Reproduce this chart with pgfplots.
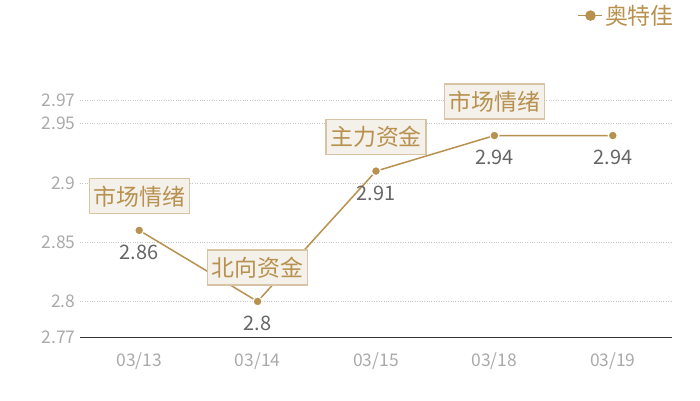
\documentclass[border=0pt]{standalone}
\usepackage{pgfplots}
\pgfplotsset{compat=1.18}
\usepackage{fontspec}
\setmainfont{Noto Sans CJK SC}
\definecolor{gold}{HTML}{B8914F}
\definecolor{boxfill}{HTML}{F4F0EA}
\definecolor{boxline}{HTML}{D8C3A5}
\definecolor{ticktext}{HTML}{AAAAAA}
\definecolor{valtext}{HTML}{666666}
\definecolor{gridc}{HTML}{C8C8C8}
\begin{document}
\begin{tikzpicture}[x=1bp,y=1bp]
\path[use as bounding box] (0,0) rectangle (700,400);
\begin{axis}[
    at={(80bp,63bp)}, anchor=south west,
    scale only axis,
    width=592bp, height=237bp,
    xmin=-0.5, xmax=4.5,
    ymin=2.77, ymax=2.97,
    xtick=data,
    xticklabels={03/13,03/14,03/15,03/18,03/19},
    ytick={2.77,2.8,2.85,2.9,2.95,2.97},
    yticklabels={2.77,2.8,2.85,2.9,2.95,2.97},
    axis x line*=bottom,
    axis y line*=left,
    y axis line style={draw=none},
    x axis line style={draw=black!80, line width=0.8pt, -},
    major tick length=0pt,
    ymajorgrids,
    grid style={gridc, dotted, line width=0.7pt},
    /pgf/number format/assume math mode=true,
    ticklabel style={font=\fontsize{17.5}{17.5}\selectfont, text=ticktext},
    xticklabel style={yshift=-12bp},
    yticklabel style={xshift=-1bp},
    clip=false,
    legend style={at={(1.0,1.0)}, anchor=north east, yshift=97bp, xshift=4bp,
        draw=none, fill=none, font=\fontsize{23}{23}\selectfont\color{gold},
        legend cell align=left, inner sep=0pt},
    legend image code/.code={
        \draw[gold, line width=1.2pt] (-4bp,0bp) -- (20bp,0bp);
        \fill[gold] (8bp,0bp) circle (4.5bp);
    },
]
\addplot[gold, line width=1.5pt, mark=*, mark size=4.5bp,
    mark options={fill=gold, draw=white, line width=1.2pt}]
    coordinates {(0,2.86) (1,2.80) (2,2.91) (3,2.94) (4,2.94)};
\addlegendentry{奥特佳}

% value labels below points
\addplot[draw=none, forget plot, point meta=explicit symbolic,
    nodes near coords,
    nodes near coords style={anchor=center, yshift=-22bp,
        font=\fontsize{20}{20}\selectfont, text=valtext}]
    coordinates {(0,2.86)[2.86] (1,2.80)[2.8] (2,2.91)[2.91] (3,2.94)[2.94] (4,2.94)[2.94]};

% annotation boxes above points
\addplot[draw=none, forget plot, point meta=explicit symbolic,
    nodes near coords,
    nodes near coords style={anchor=center, yshift=34bp,
        font=\fontsize{23}{23}\selectfont, text=gold,
        fill=boxfill, draw=boxline, line width=1.2pt,
        minimum width=100bp, minimum height=35bp,
        inner xsep=2bp, inner ysep=3bp}]
    coordinates {(0,2.86)[市场情绪] (1,2.80)[北向资金] (2,2.91)[主力资金] (3,2.94)[市场情绪]};
\end{axis}
\end{tikzpicture}
\end{document}
